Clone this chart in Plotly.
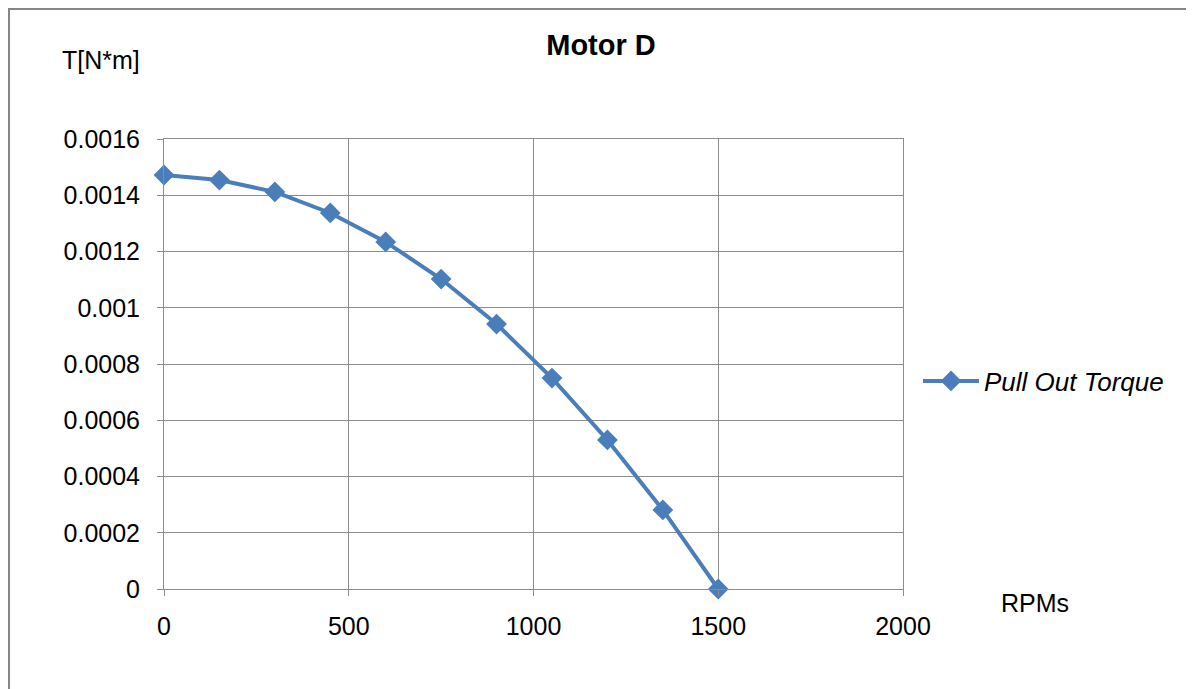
import plotly.graph_objects as go

rpm = [0, 150, 300, 450, 600, 750, 900, 1050, 1200, 1350, 1500]
torque = [0.001472, 0.001454, 0.001412, 0.001337, 0.001234, 0.001102,
          0.000942, 0.00075, 0.00053, 0.000281, 0.0]
series_name = "Pull Out Torque"
x_ticks = [0, 500, 1000, 1500, 2000]
y_ticks = [0, 0.0002, 0.0004, 0.0006, 0.0008, 0.001, 0.0012, 0.0014, 0.0016]
y_labels = ["0", "0.0002", "0.0004", "0.0006", "0.0008", "0.001", "0.0012", "0.0014", "0.0016"]

blue = "#4A7EBB"
grid = "#8C8C8C"
font = "Liberation Sans, Arial, sans-serif"

W, H = 1186, 681
L, R, T, B = 156, 291, 131, 100
pw, ph = W - L - R, H - T - B

fig = go.Figure()
fig.add_trace(go.Scatter(
    x=rpm, y=torque, mode="lines+markers", name=series_name,
    line=dict(color=blue, width=4),
    marker=dict(symbol="diamond", size=16, color=blue),
    cliponaxis=False,
))

axis_common = dict(
    showgrid=True, gridcolor=grid, gridwidth=1,
    showline=True, linecolor=grid, linewidth=1, mirror=True,
    ticks="outside", ticklen=6, tickcolor=grid, zeroline=False,
    tickfont=dict(size=25, family=font, color="black"),
)

fig.update_layout(
    width=W, height=H,
    margin=dict(l=L, r=R, t=T, b=B),
    paper_bgcolor="white", plot_bgcolor="white",
    font=dict(family=font, color="black", size=25),
    title=dict(text="<b>Motor D</b>", x=0.5, xanchor="center",
               y=1 - 37 / H, yanchor="middle",
               font=dict(size=29, family=font, color="black")),
    showlegend=True,
    legend=dict(x=1 + 15 / pw, y=1 - (381 - 139) / ph, xanchor="left", yanchor="middle",
                font=dict(size=26, family=font, style="italic", color="black"),
                bgcolor="rgba(0,0,0,0)", itemwidth=56),
    xaxis=dict(range=[0, 2000], tickvals=x_ticks, ticktext=[str(v) for v in x_ticks],
               ticklabelstandoff=9, **axis_common),
    yaxis=dict(range=[0, 0.0016], tickvals=y_ticks, ticktext=y_labels,
               ticklabelstandoff=12, **axis_common),
    shapes=[dict(type="rect", xref="paper", yref="paper",
                 x0=-(L - 1) / pw, x1=1 + (R - 4) / pw, y0=-(B + 5) / ph, y1=1 + (T - 1) / ph,
                 line=dict(color="#868686", width=2))],
    annotations=[
        dict(text="T[N*m]", xref="paper", yref="paper", x=-63 / pw, y=1 + 79 / ph,
             xanchor="center", yanchor="middle", showarrow=False,
             font=dict(size=25, family=font, color="black")),
        dict(text="RPMs", xref="paper", yref="paper", x=1 + 132 / pw, y=-14 / ph,
             xanchor="center", yanchor="middle", showarrow=False,
             font=dict(size=25, family=font, color="black")),
    ],
)
fig.write_html("out.html")
